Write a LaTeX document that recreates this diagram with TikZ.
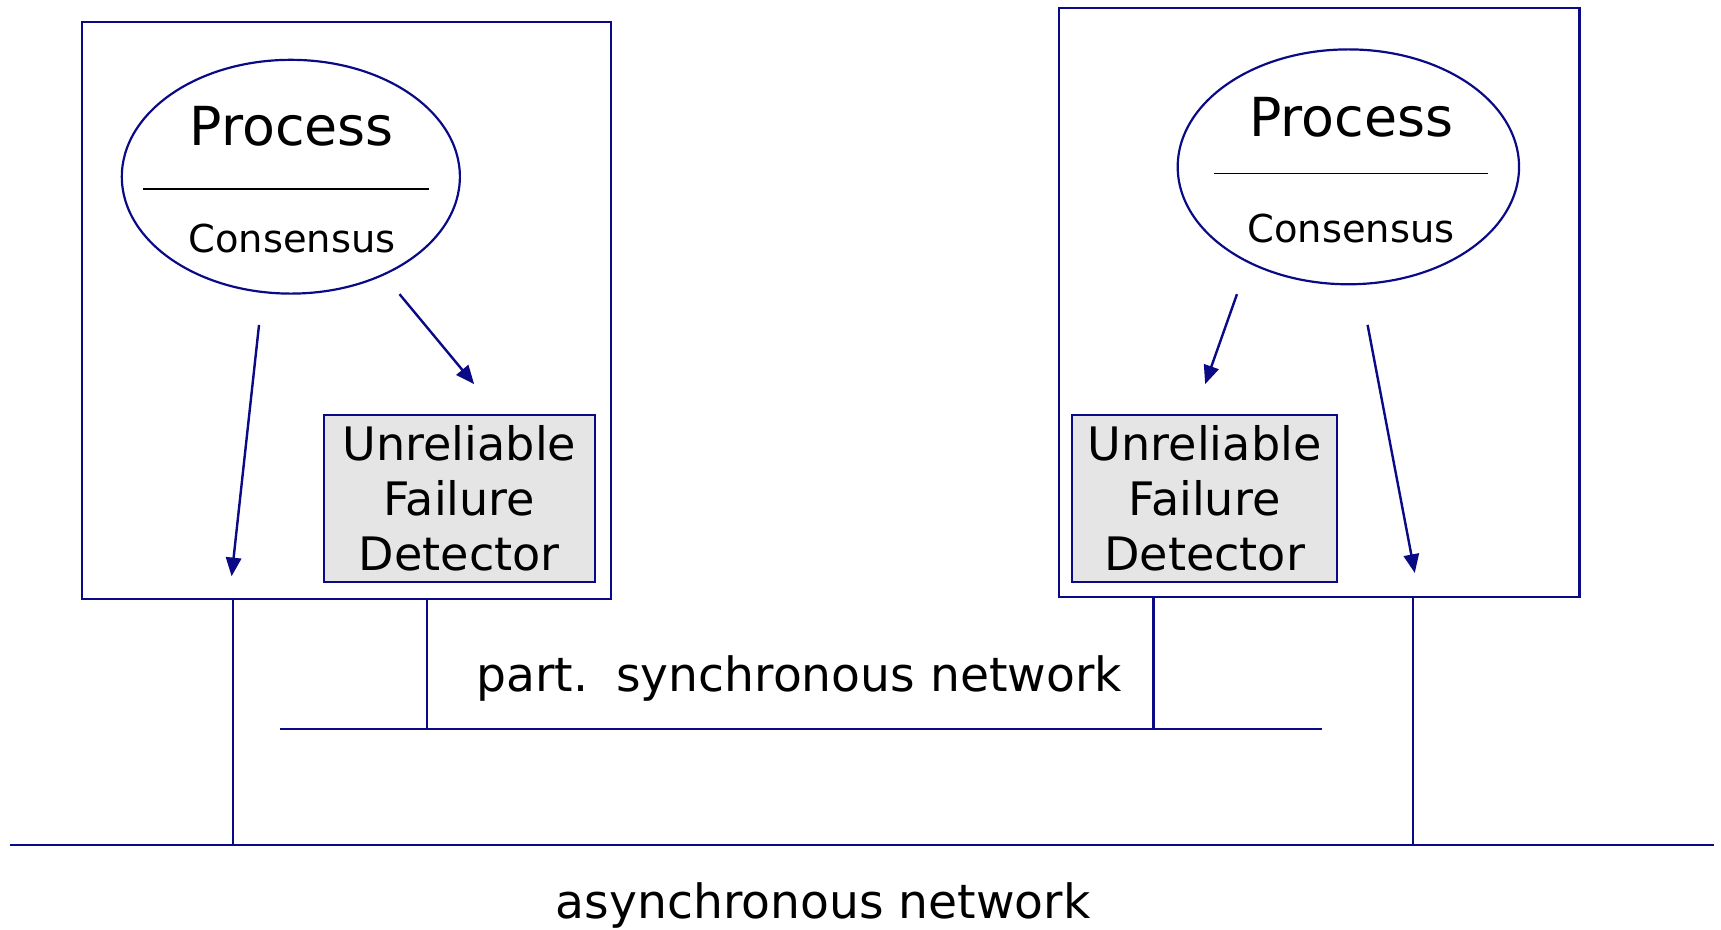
\documentclass[tikz,border=0pt]{standalone}
\usepackage{fontspec}
\setmainfont{DejaVu Sans}
\usetikzlibrary{arrows.meta,shapes.geometric}
\definecolor{netblue}{RGB}{10,10,135}

\tikzset{
    hostbox/.style={draw=netblue,line width=1pt,minimum width=#1,inner sep=0pt},
    procell/.style={draw=netblue,line width=1pt,ellipse,inner sep=0pt},
    fdbox/.style={draw=netblue,line width=1pt,fill=black!10,inner sep=0pt,
        align=center,font=\fontsize{21}{25}\selectfont},
    netline/.style={netblue,line width=1pt},
    callarrow/.style={netblue,line width=1.1pt,-{Triangle[length=8.5pt,width=7pt]}},
    divider/.style={black,line width=0.8pt}
}

\begin{document}
\begin{tikzpicture}[x=0.5pt,y=-0.5pt]
    \useasboundingbox (0,0) rectangle (1568,847);
    %hosts
    \node[hostbox=241pt,minimum height=263pt] (lbox) at (316,283) {};
    \node[hostbox=237pt,minimum height=268.5pt] (rbox) at (1202,275.5) {};
    %processes
    \node[procell,minimum width=154pt,minimum height=106.5pt] (lproc) at (265,161) {};
    \node[procell,minimum width=155.5pt,minimum height=107pt] (rproc) at (1228.5,152) {};
    \draw[divider] (130,172) -- (391,172);
    \draw[divider] (1106,158) -- (1356,158);
    \node[anchor=base,font=\fontsize{24.5}{28}\selectfont] (lptxt) at (266,133) {Process};
    \node[anchor=base,font=\fontsize{17.5}{21}\selectfont] (lctxt) at (266,230) {Consensus};
    \node[anchor=base,font=\fontsize{24.5}{28}\selectfont] (rptxt) at (1231,124) {Process};
    \node[anchor=base,font=\fontsize{17.5}{21}\selectfont] (rctxt) at (1231,221) {Consensus};
    %failure detectors
    \node[fdbox,minimum width=123.5pt,minimum height=76pt] (lfd) at (418.5,454) {Unreliable\\Failure\\Detector};
    \node[fdbox,minimum width=120.5pt,minimum height=76pt] (rfd) at (1097.5,454) {Unreliable\\Failure\\Detector};
    %arrows
    \coordinate (la1) at (236,296); \coordinate (la2) at (211,525);
    \coordinate (lb1) at (364,268); \coordinate (lb2) at (432,350);
    \coordinate (ra1) at (1127,268); \coordinate (ra2) at (1098,350);
    \coordinate (rb1) at (1246,296); \coordinate (rb2) at (1289,522);
    \draw[callarrow] (la1) -- (la2);
    \draw[callarrow] (lb1) -- (lb2);
    \draw[callarrow] (ra1) -- (ra2);
    \draw[callarrow] (rb1) -- (rb2);
    %networks
    \coordinate (psL) at (255,664); \coordinate (psR) at (1204,664);
    \coordinate (asL) at (9,770); \coordinate (asR) at (1562,770);
    \coordinate (ldrop) at (389,664); \coordinate (rdrop) at (1051,664);
    \coordinate (lasync) at (212,770); \coordinate (rasync) at (1287,770);
    \draw[netline] (psL) -- (psR);
    \draw[netline] (asL) -- (asR);
    \draw[netline] (lbox.south -| ldrop) -- (ldrop);
    \draw[netline] (rbox.south -| rdrop) -- (rdrop);
    \draw[netline] (lbox.south -| lasync) -- (lasync);
    \draw[netline] (rbox.south -| rasync) -- (rasync);
    \node[anchor=base,font=\fontsize{21.5}{25}\selectfont] (psync) at (728,630) {part.\hspace{0.6em}synchronous network};
    \node[anchor=base,font=\fontsize{21.5}{25}\selectfont] (async) at (750,837) {asynchronous network};
\end{tikzpicture}
\end{document}
